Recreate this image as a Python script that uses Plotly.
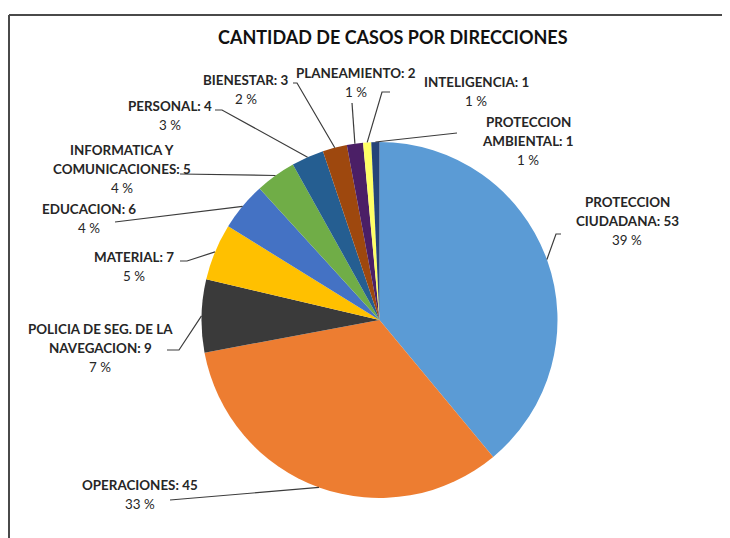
import math
import plotly.graph_objects as go

# ---- data ----
categories = ["PROTECCION CIUDADANA", "OPERACIONES", "POLICIA DE SEG. DE LA NAVEGACION",
              "MATERIAL", "EDUCACION", "INFORMATICA Y COMUNICACIONES", "PERSONAL",
              "BIENESTAR", "PLANEAMIENTO", "INTELIGENCIA", "PROTECCION AMBIENTAL"]
values = [53, 45, 9, 7, 6, 5, 4, 3, 2, 1, 1]
# label wrapping as shown in the chart (name lines; last gets ": value")
label_lines = [["PROTECCION", "CIUDADANA"], ["OPERACIONES"], ["POLICIA DE SEG. DE LA", "NAVEGACION"],
               ["MATERIAL"], ["EDUCACION"], ["INFORMATICA Y", "COMUNICACIONES"], ["PERSONAL"],
               ["BIENESTAR"], ["PLANEAMIENTO"], ["INTELIGENCIA"], ["PROTECCION", "AMBIENTAL"]]
colors = ["#5B9BD5", "#ED7D31", "#3A3A3A", "#FFC000", "#4472C4", "#70AD47", "#255E91",
          "#9E480E", "#4B1F66", "#FFFF66", "#264478"]
title = "CANTIDAD DE CASOS POR DIRECCIONES"

# ---- layout constants (screen pixels) ----
SW, SH = 730, 538          # browser window
OFF = 8                    # page body margin of the html page
W, H = SW - OFF, SH - OFF  # figure size so it ends at the window edge
CX, CY, R = 379.5, 320.0, 178.0
FONT = "Lato"
LINE_GAP = 19
# label block: (center x, first-line y)
label_pos = [(627, 202), (140, 485), (100, 329), (134, 257), (89, 209), (122, 150),
             (170, 106), (246, 80), (356, 73), (476, 82), (528, 122)]
# leader line points after the slice-edge start point
leader_pts = [[(556, 234), (561, 234)], [(170, 500)], [(179, 350), (167, 350)],
              [(187, 261), (180, 261)], [(115, 222)], [(180, 174)], [(222, 110), (215, 110)],
              [(297, 83), (293, 83)], [(352, 103)], [(382, 92), (390, 92)], [(457, 133)]]

total = sum(values)

fig = go.Figure()
fig.add_trace(go.Pie(
    labels=categories, values=values, sort=False, direction="clockwise", rotation=0,
    marker=dict(colors=colors, line=dict(width=0)), textinfo="none", hoverinfo="label+value+percent",
    showlegend=False,
    domain=dict(x=[(CX - OFF - R) / W, (CX - OFF + R) / W],
                y=[(H - (CY - OFF) - R) / H, (H - (CY - OFF) + R) / H]),
))
# invisible screen-pixel axes for labels / leader lines
fig.add_trace(go.Scatter(x=[OFF, SW], y=[OFF, SH], mode="markers", marker=dict(opacity=0),
                         hoverinfo="skip", showlegend=False))

shapes = []
annotations = []
cum = 0
for i, v in enumerate(values):
    mid = (cum + v / 2) / total * 2 * math.pi
    cum += v
    sx = CX + R * math.sin(mid)
    sy = CY - R * math.cos(mid)
    pts = [(sx, sy)] + leader_pts[i]
    path = "M " + " L ".join(f"{x:.1f},{y:.1f}" for x, y in pts)
    shapes.append(dict(type="path", path=path, xref="x", yref="y",
                       line=dict(color="#3C3C3C", width=1.2)))
    lines = list(label_lines[i])
    lines[-1] = f"{lines[-1]}: {v}"
    pct = round(v / total * 100)
    x0, y0 = label_pos[i]
    for j, t in enumerate(lines):
        annotations.append(dict(x=x0, y=y0 + j * LINE_GAP, xref="x", yref="y", text=f"<b>{t}</b>",
                                showarrow=False, font=dict(family=FONT, size=13.4, color="#262626"),
                                xanchor="center", yanchor="middle"))
    annotations.append(dict(x=x0, y=y0 + len(lines) * LINE_GAP, xref="x", yref="y", text=f"{pct} %",
                            showarrow=False, font=dict(family=FONT, size=13.4, color="#262626"),
                            xanchor="center", yanchor="middle"))

annotations.append(dict(x=393, y=37, xref="x", yref="y", text=f"<b>{title}</b>", showarrow=False,
                        font=dict(family=FONT, size=18, color="#111111"),
                        xanchor="center", yanchor="middle"))

# chart border (top and left edges visible)
shapes.append(dict(type="line", xref="x", yref="y", x0=9, y0=15, x1=SW, y1=15,
                   line=dict(color="#4A4A4A", width=2)))
shapes.append(dict(type="line", xref="x", yref="y", x0=9, y0=15, x1=9, y1=SH,
                   line=dict(color="#4A4A4A", width=2)))

fig.update_layout(
    width=W, height=H, margin=dict(l=0, r=0, t=0, b=0),
    paper_bgcolor="white", plot_bgcolor="rgba(0,0,0,0)",
    xaxis=dict(range=[OFF, SW], visible=False, fixedrange=True),
    yaxis=dict(range=[SH, OFF], visible=False, fixedrange=True),
    shapes=shapes, annotations=annotations,
)
fig.write_html("out.html")
